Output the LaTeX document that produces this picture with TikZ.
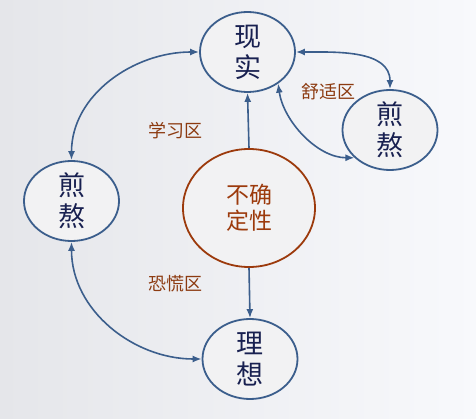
\documentclass[tikz,border=0pt]{standalone}
\usepackage{fontspec}
\newfontfamily\cjk{Noto Sans CJK SC}
\usetikzlibrary{shapes.geometric,arrows.meta,positioning}
\definecolor{edgeblue}{RGB}{59,94,140}
\definecolor{textnavy}{RGB}{24,32,80}
\definecolor{corebrown}{RGB}{156,58,12}
\definecolor{zonebrown}{RGB}{140,58,16}
\definecolor{nodefill}{RGB}{242,242,243}
\definecolor{bgleft}{RGB}{229,230,234}
\definecolor{bgright}{RGB}{248,249,252}
\tikzset{
  stagebox/.style={ellipse,draw=edgeblue,line width=1.8pt,fill=nodefill,align=center,minimum width=95pt,minimum height=80pt,inner sep=0pt,font=\cjk\fontsize{27}{31}\selectfont,text=textnavy},
  corebox/.style={ellipse,draw=corebrown,line width=1.8pt,fill=nodefill,align=center,minimum width=132pt,minimum height=118pt,inner sep=0pt,font=\cjk\fontsize{23}{26}\selectfont,text=corebrown},
  stagearr/.style={-{Latex[length=9pt,width=7pt]},line width=1.6pt,draw=edgeblue},
  stagedbl/.style={{Latex[length=9pt,width=7pt]}-{Latex[length=9pt,width=7pt]},line width=1.6pt,draw=edgeblue},
  zonelabel/.style={font=\cjk\fontsize{18}{21}\selectfont,text=zonebrown,inner sep=1pt}
}
\begin{document}
\begin{tikzpicture}[x=1pt,y=1pt]
  % background
  \shade[left color=bgleft,right color=bgright] (0,0) rectangle (476,418);
  \useasboundingbox (0,0) rectangle (476,418);

  % stages
  \node[stagebox] (real) at (247.5,366) {现\\实};
  \node[stagebox] (easeR) at (390,288) {煎\\熬};
  \node[stagebox] (easeL) at (71.5,217) {煎\\熬};
  \node[stagebox] (ideal) at (250,59) {理\\想};
  \node[corebox] (unc) at (249,210) {不确\\定性};

  % zones
  \node[zonelabel] (learn) at (175,287) {学习区};
  \node[zonelabel] (comfort) at (328,326.5) {舒适区};
  \node[zonelabel] (panic) at (175,134.5) {恐慌区};

  % connectors
  \draw[stagearr] (unc.north) -- (real.south);
  \draw[stagearr] (unc.south) -- (ideal.north);
  \draw[stagedbl] (easeL.north) to[out=90,in=180] (real.west);
  \draw[stagedbl] (easeL.south) to[out=-90,in=180] (ideal.west);
  \draw[stagedbl] (real.east) to[out=0,in=90] (easeR.north);
  \draw[stagedbl] (real.-46) to[out=-82,in=180,looseness=0.9] (easeR.218);
\end{tikzpicture}
\end{document}
